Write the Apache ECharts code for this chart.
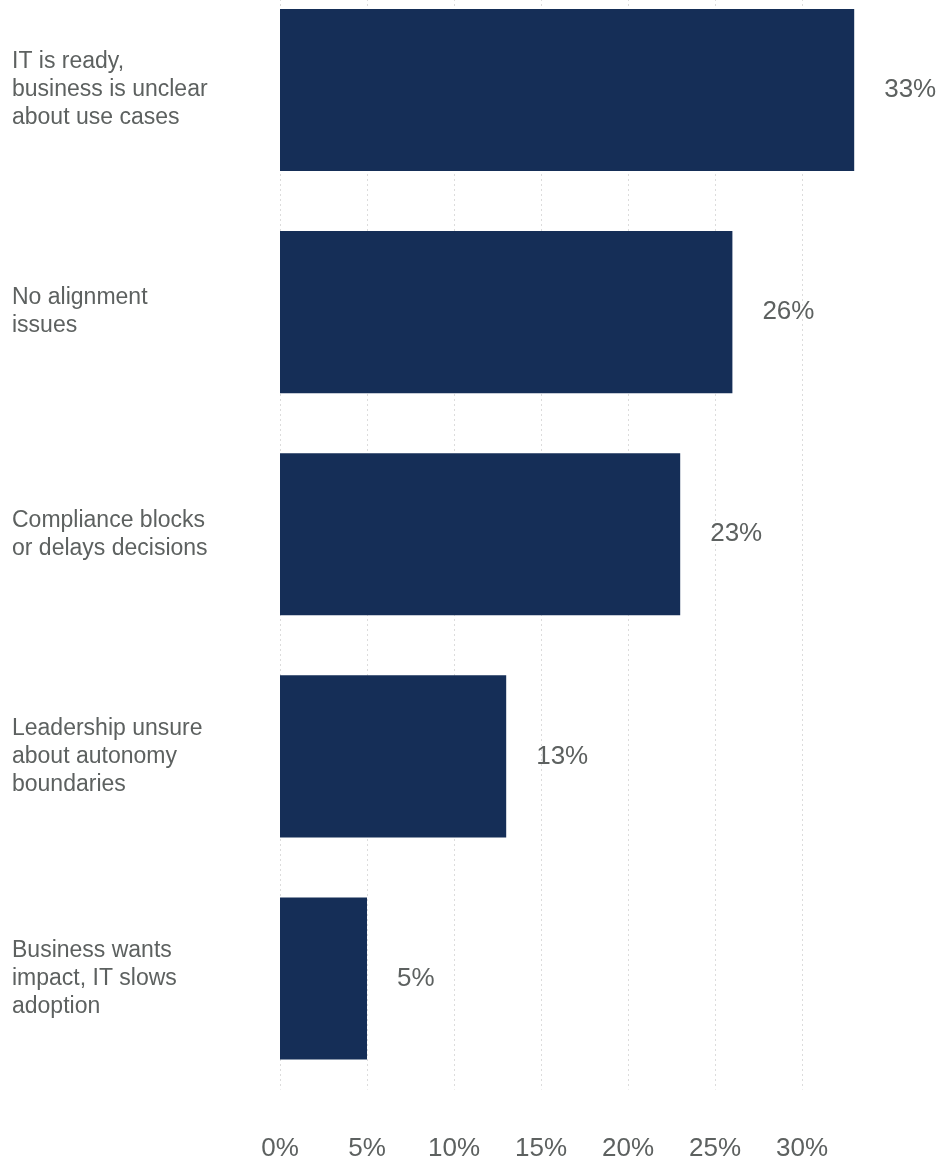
<!DOCTYPE html>
<html>
<head>
<meta charset="utf-8">
<title>Alignment between IT and business</title>
<script src="https://cdn.jsdelivr.net/npm/echarts@6/dist/echarts.min.js"></script>
<style>
  html, body { margin: 0; padding: 0; background: #ffffff; }
  #chart { width: 942px; height: 1160px; }
</style>
</head>
<body>
<div id="chart"></div>
<script>
// Answer categories, top to bottom
const categories = [
  'IT is ready,\nbusiness is unclear\nabout use cases',
  'No alignment\nissues',
  'Compliance blocks\nor delays decisions',
  'Leadership unsure\nabout autonomy\nboundaries',
  'Business wants\nimpact, IT slows\nadoption'
];
// Share of respondents (%)
const shares = [33, 26, 23, 13, 5];
// Percent axis ticks
const axisMin = 0;
const axisMax = 34;
const axisStep = 5;

const FONT = '"Liberation Sans", Arial, Helvetica, sans-serif';
const GREY = '#5d6160';
const NAVY = '#152e57';

const chart = echarts.init(document.getElementById('chart'), null, { renderer: 'canvas' });

chart.setOption({
  animation: false,
  backgroundColor: '#ffffff',
  grid: {
    left: 280,
    width: 591.6,
    top: -21,
    height: 1110.5,
    containLabel: false,
    outerBoundsMode: 'none'
  },
  xAxis: {
    type: 'value',
    min: axisMin,
    max: axisMax,
    interval: axisStep,
    axisLine: { show: false },
    axisTick: { show: false },
    axisLabel: {
      formatter: '{value}%',
      color: GREY,
      fontFamily: FONT,
      fontSize: 26,
      margin: 46,
      showMaxLabel: false
    },
    splitLine: {
      show: true,
      showMaxLine: false,
      lineStyle: { color: '#dcdcdc', width: 1, type: [2, 3] }
    }
  },
  yAxis: {
    type: 'category',
    data: categories,
    inverse: true,
    axisLine: { show: false },
    axisTick: { show: false },
    splitLine: { show: false },
    axisLabel: {
      align: 'left',
      margin: 268,
      color: GREY,
      fontFamily: FONT,
      fontSize: 23,
      lineHeight: 28
    }
  },
  series: [{
    type: 'bar',
    data: shares,
    barCategoryGap: '27%',
    itemStyle: { color: NAVY },
    label: {
      show: true,
      position: 'right',
      distance: 30,
      formatter: '{c}%',
      color: GREY,
      fontFamily: FONT,
      fontSize: 26
    }
  }]
});
</script>
</body>
</html>
